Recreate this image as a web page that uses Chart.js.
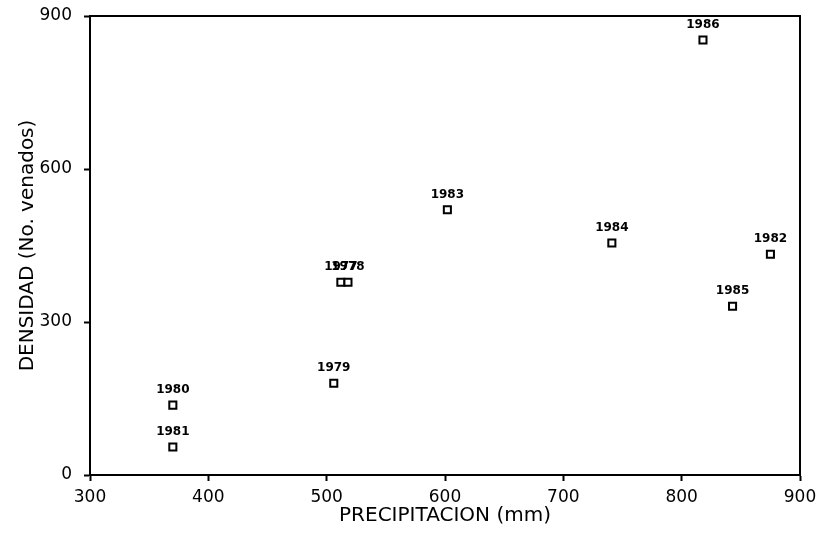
<!DOCTYPE html>
<html>
<head>
<meta charset="utf-8">
<script src="https://cdn.jsdelivr.net/npm/chart.js@4.4.0/dist/chart.umd.min.js"></script>
<style>
    body { margin: 0; background: #fff; }
    #wrap { width: 825px; height: 536px; }
</style>
</head>
<body>
<div id="wrap"><canvas id="densidadChart"></canvas></div>
<script>
// Data
var anios = ['1977', '1978', '1979', '1980', '1981', '1982', '1983', '1984', '1985', '1986'];
var precipitacion = [512, 518, 506, 370, 370, 875, 602, 741, 843, 818];
var densidad = [378, 378, 180, 137, 55, 433, 520, 455, 331, 853];
var ticksX = [300, 400, 500, 600, 700, 800, 900];
var ticksY = [0, 300, 600, 900];

var puntos = precipitacion.map(function(p, i) {
    return { x: p, y: densidad[i] };
});

// box round the plot area (top and right sides)
var marcoPlugin = {
    id: 'marco',
    afterDraw: function(chart) {
        var a = chart.chartArea;
        var ctx = chart.ctx;
        ctx.save();
        ctx.strokeStyle = '#000';
        ctx.lineWidth = 2;
        ctx.strokeRect(a.left, a.top, a.right - a.left, a.bottom - a.top);
        ctx.restore();
    }
};

// year label above each square
var etiquetasPlugin = {
    id: 'etiquetas',
    afterDatasetsDraw: function(chart) {
        var ctx = chart.ctx;
        var meta = chart.getDatasetMeta(0);
        ctx.save();
        ctx.fillStyle = '#000';
        ctx.font = 'bold 12px "DejaVu Sans"';
        ctx.textAlign = 'center';
        ctx.textBaseline = 'middle';
        meta.data.forEach(function(pt, i) {
            ctx.fillText(anios[i], pt.x, pt.y - 15);
        });
        ctx.restore();
    }
};

var densidadChart = new Chart(document.getElementById('densidadChart'), {
    type: 'scatter',
    data: {
        datasets: [{
            label: 'Densidad',
            data: puntos,
            pointStyle: 'rect',
            pointRadius: 5,
            pointHoverRadius: 5,
            pointBackgroundColor: '#fff',
            pointBorderColor: '#000',
            pointBorderWidth: 2
        }]
    },
    options: {
        responsive: true,
        maintainAspectRatio: false,
        animation: false,
        layout: {
            padding: { top: 16, right: 25, left: 16, bottom: 0 }
        },
        plugins: {
            legend: { display: false },
            tooltip: { enabled: false }
        },
        scales: {
            x: {
                type: 'linear',
                min: 300,
                max: 900,
                afterBuildTicks: function(axis) {
                    axis.ticks = ticksX.map(function(v) { return { value: v }; });
                },
                afterFit: function(axis) {
                    axis.height = 61;
                    axis.paddingLeft = 0;
                    axis.paddingRight = 0;
                },
                border: { color: '#000', width: 2 },
                grid: { drawOnChartArea: false, tickLength: 6, tickColor: '#000', tickWidth: 2 },
                ticks: {
                    color: '#000',
                    padding: 6,
                    maxRotation: 0,
                    font: { family: 'DejaVu Sans', size: 17 }
                },
                title: {
                    display: true,
                    text: 'PRECIPITACION (mm)',
                    color: '#000',
                    padding: { top: 0, bottom: 8 },
                    font: { family: 'DejaVu Sans', size: 20 }
                }
            },
            y: {
                type: 'linear',
                min: 0,
                max: 900,
                afterBuildTicks: function(axis) {
                    axis.ticks = ticksY.map(function(v) { return { value: v }; });
                },
                afterFit: function(axis) {
                    axis.width = 74;
                    axis.paddingTop = 0;
                    axis.paddingBottom = 0;
                },
                border: { color: '#000', width: 2 },
                grid: { drawOnChartArea: false, tickLength: 6, tickColor: '#000', tickWidth: 2 },
                ticks: {
                    color: '#000',
                    padding: 12,
                    font: { family: 'DejaVu Sans', size: 17 }
                },
                title: {
                    display: true,
                    text: 'DENSIDAD (No. venados)',
                    color: '#000',
                    padding: { top: 0, bottom: 0 },
                    font: { family: 'DejaVu Sans', size: 20 }
                }
            }
        }
    },
    plugins: [marcoPlugin, etiquetasPlugin]
});
</script>
</body>
</html>
